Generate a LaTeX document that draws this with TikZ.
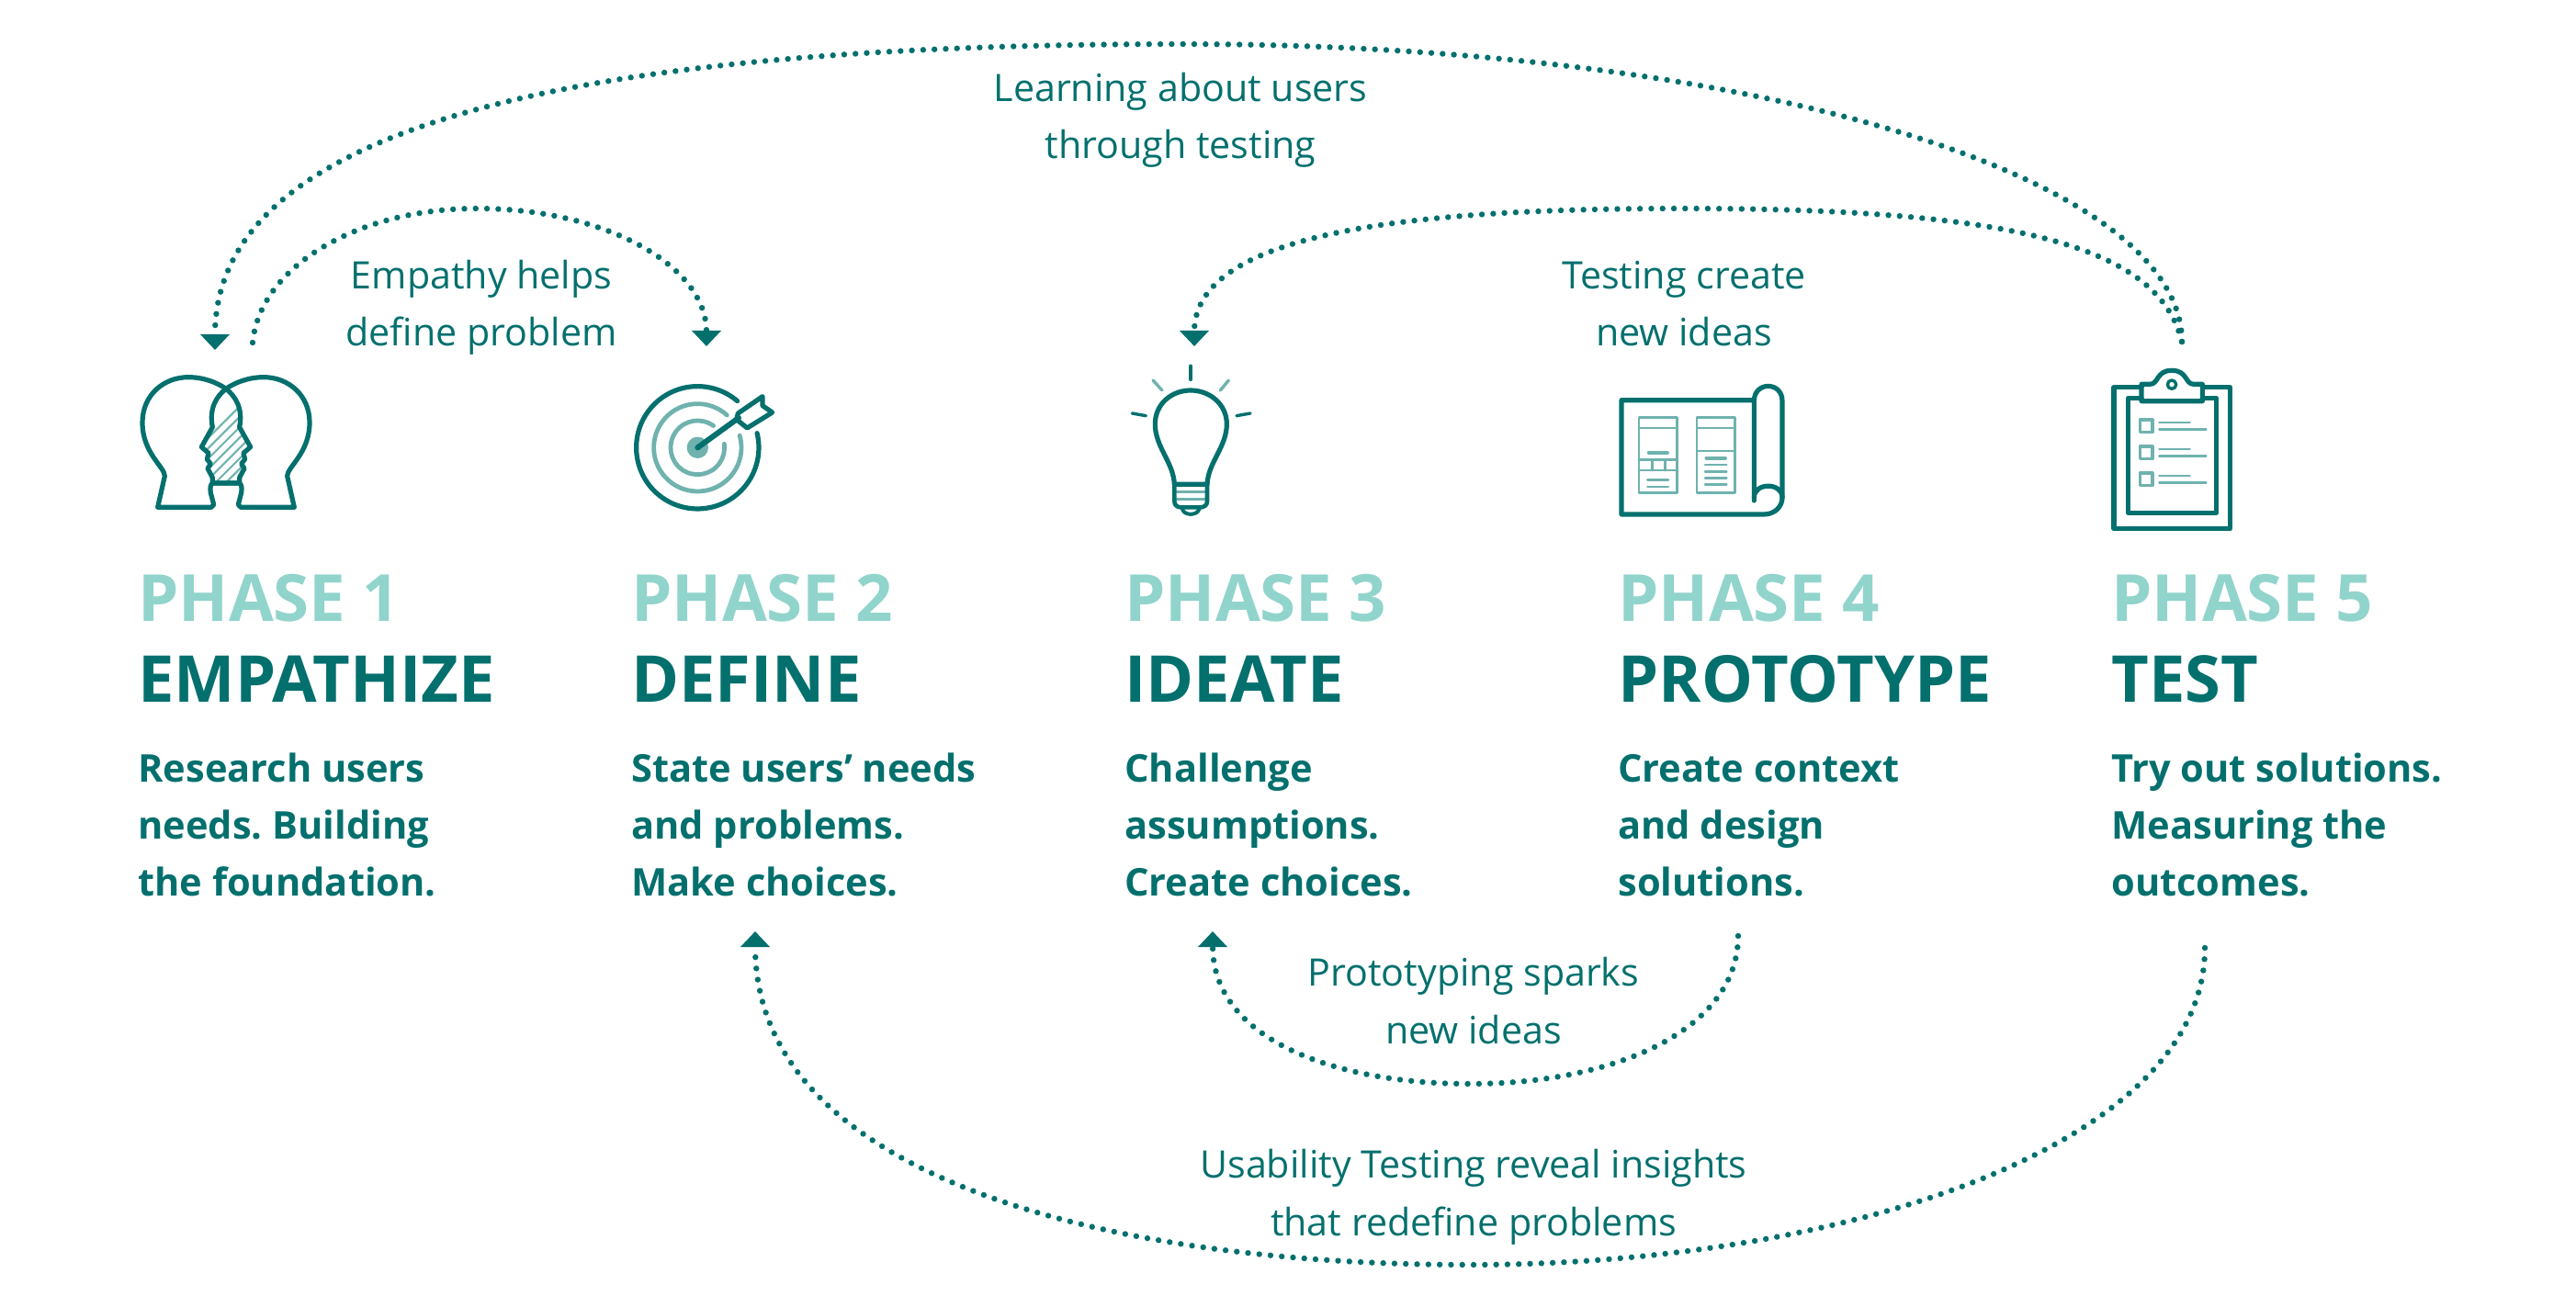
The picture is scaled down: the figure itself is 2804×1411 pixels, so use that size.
\documentclass[tikz,border=0pt]{standalone}
\usepackage{fontspec}
\setmainfont{Open Sans}
\usetikzlibrary{arrows.meta}
\definecolor{tealdark}{HTML}{04706E}
\definecolor{teallight}{HTML}{91D4CC}
\definecolor{tealmid}{HTML}{6FB2AE}
\tikzset{
  phasetext/.style={anchor=base west,inner sep=0pt,text=teallight,font=\fontsize{35.4}{40}\selectfont\bfseries},
  titletext/.style={anchor=base west,inner sep=0pt,text=tealdark,font=\fontsize{35.2}{40}\selectfont\bfseries},
  bodytext/.style={anchor=base west,inner sep=0pt,align=left,text=tealdark,font=\fontsize{20.8}{30.9}\selectfont\bfseries\frenchspacing},
  labeltext/.style={anchor=base,inner sep=0pt,align=center,text=tealdark,font=\fontsize{20.6}{31.2}\selectfont},
  dotted link/.style={draw=tealdark,line width=3.2pt,line cap=round,dash pattern=on 0pt off 6.15pt,
     -{Triangle[width=15.5pt,length=8.5pt,sep=2pt,line cap=butt]}},
  icon/.style={draw=tealdark,line width=2.6pt,line join=round,line cap=round},
  iconlight/.style={draw=tealmid,line width=2.4pt,line join=round,line cap=round},
  iconthin/.style={draw=tealmid,line width=1.3pt,line join=round,line cap=round},
}
\begin{document}
\begin{tikzpicture}[x=0.5pt,y=-0.5pt]
\useasboundingbox (0,0) rectangle (2804,1411);

% texts
\foreach \nm/\cx/\ph/\ti in {a/150/PHASE 1/EMPATHIZE,b/687/PHASE 2/DEFINE,c/1224/PHASE 3/IDEATE,d/1761/PHASE 4/PROTOTYPE,e/2298/PHASE 5/TEST}{
  \node[phasetext] (ph\nm) at (\cx,676) {\ph};
  \node[titletext] (ti\nm) at (\cx,764) {\ti};
}
\node[bodytext] (boa) at (150,975) {Research users\\needs. Building\\the foundation.};
\node[bodytext] (bob) at (687,975) {State users’ needs\\and problems.\\Make choices.};
\node[bodytext] (boc) at (1224,975) {Challenge\\assumptions.\\Create choices.};
\node[bodytext] (bod) at (1761,975) {Create context\\and design\\solutions.};
\node[bodytext] (boe) at (2298,975) {Try out solutions.\\Measuring the\\outcomes.};

\node[labeltext] (l1) at (1285,173) {Learning about users\\through testing};
\node[labeltext] (l2) at (524,377) {Empathy helps\\define problem};
\node[labeltext] (l3) at (1833,377) {Testing create\\new ideas};
\node[labeltext] (l4) at (1604,1136) {Prototyping sparks\\new ideas};
\node[labeltext] (l5) at (1604,1345) {Usability Testing reveal insights\\that redefine problems};

% connector ends
\coordinate (testtop) at (2375,372);
\coordinate (emptop) at (234,385);
\coordinate (empstart) at (275,373);
\coordinate (deftop) at (769,381);
\coordinate (ideatop) at (1300,381);
\coordinate (protobot) at (1892,1019);
\coordinate (ideabot) at (1320,1010);
\coordinate (testbot) at (2400,1032);
\coordinate (defbot) at (822,1010);

\draw[dotted link] (testtop) .. controls (2375,190) and (1900,48) .. (1287,48)
   .. controls (650,48) and (234,130) .. (emptop);
\draw[dotted link] (empstart) .. controls (283,290) and (390,227) .. (519,227)
   .. controls (660,227) and (769,290) .. (deftop);
\draw[dotted link] (testtop) .. controls (2350,270) and (2200,227) .. (1833,227)
   .. controls (1550,227) and (1300,250) .. (ideatop);
\draw[dotted link] (protobot) .. controls (1892,1120) and (1760,1180) .. (1600,1180)
   .. controls (1450,1180) and (1320,1130) .. (ideabot);
\draw[dotted link] (testbot) .. controls (2400,1250) and (2000,1377) .. (1600,1377)
   .. controls (1200,1377) and (822,1280) .. (defbot);

% heads (crop coordinates, 3x)
\begin{scope}[shift={(140,390)},x=0.16667pt,y=-0.16667pt]
  \begin{scope}
    \clip (318,100) .. controls (285,125) and (262,165) .. (268,225) -- (237,290) -- (258,315) -- (252,330) -- (265,345) -- (258,360) -- (270,390) -- (270,408)
       -- (362,408) -- (362,390) -- (378,360) -- (368,345) -- (380,330) -- (375,310) -- (398,290) -- (362,225) .. controls (374,165) and (350,125) .. (318,100) -- cycle;
    \foreach \k in {0,...,16}{
      \draw[tealmid,line width=1.05pt] ({100+\k*34},420) -- ({100+\k*34+340},80);
    }
  \end{scope}
  \draw[icon] (95,487) -- (118,385) .. controls (118,355) and (45,310) .. (45,210)
     .. controls (45,120) and (115,62) .. (195,62)
     .. controls (245,62) and (290,80) .. (318,100)
     .. controls (350,125) and (374,165) .. (362,225) -- (398,290) -- (375,310) -- (380,330) -- (368,345) -- (378,360) -- (362,390) -- (362,408)
     -- (275,408) .. controls (266,412) and (266,425) .. (268,440) -- (278,478) -- (270,487) -- cycle;
  \draw[icon] (541,487) -- (518,385) .. controls (518,355) and (591,310) .. (591,210)
     .. controls (591,120) and (521,62) .. (441,62)
     .. controls (391,62) and (346,80) .. (318,100)
     .. controls (286,125) and (262,165) .. (274,225) -- (238,290) -- (261,310) -- (256,330) -- (268,345) -- (258,360) -- (274,390) -- (274,408)
     -- (361,408) .. controls (370,412) and (370,425) .. (368,440) -- (358,478) -- (366,487) -- cycle;
\end{scope}

% target: rings
\begin{scope}[shift={(759.3,487.3)},x=0.16667pt,y=0.16667pt]
  \draw[icon] (49.5:200) arc[start angle=49.5,end angle=373.6,radius=200];
  \draw[iconlight] (47.8:143) arc[start angle=47.8,end angle=376,radius=143];
  \draw[iconlight] (54:88) arc[start angle=54,end angle=368,radius=88];
  \fill[tealmid] (0,0) circle[radius=35];
\end{scope}
% target: arrow
\begin{scope}[shift={(680,400)},x=0.16667pt,y=-0.16667pt]
  \draw[icon,line width=3pt] (238,262) -- (372,165);
  \draw[icon] (370,150) -- (450,95) -- (450,125) -- (482,147) -- (400,198) -- (365,170) -- cycle;
\end{scope}

% bulb
\begin{scope}[shift={(1220,390)},x=0.16667pt,y=-0.16667pt]
  \draw[icon] (175,412) .. controls (172,340) and (112,290) .. (112,215) .. controls (112,150) and (165,105) .. (228,105)
     .. controls (290,105) and (346,150) .. (346,215) .. controls (346,290) and (285,340) .. (282,412) -- cycle;
  \draw[iconlight,line width=1.6pt] (180,437) -- (277,437);
  \draw[iconlight,line width=1.6pt] (180,460) -- (277,460);
  \draw[icon,line width=2.3pt] (175,412) -- (175,468) .. controls (175,480) and (185,487) .. (197,487) -- (260,487) .. controls (272,487) and (282,480) .. (282,468) -- (282,412);
  \draw[icon,line width=2pt] (200,490) .. controls (204,516) and (252,516) .. (257,490);
  \draw[icon,line width=1.7pt] (228,25) -- (228,70);
  \draw[iconlight,line width=1.7pt] (105,72) -- (135,105);
  \draw[iconlight,line width=1.7pt] (352,72) -- (325,105);
  \draw[icon,line width=1.7pt] (37,180) -- (82,188);
  \draw[icon,line width=1.7pt] (378,188) -- (423,180);
\end{scope}

% prototype scroll
\begin{scope}[shift={(1750,410)},x=0.16667pt,y=-0.16667pt]
  \draw[icon] (478,77) -- (45,77) -- (45,450) -- (510,450) .. controls (545,450) and (570,425) .. (570,395) -- (570,80)
     .. controls (570,15) and (478,15) .. (478,80) -- (478,405);
  \draw[icon] (478,395) .. controls (478,345) and (570,345) .. (570,395);
  \foreach \rx in {102,291}{
    \draw[iconthin,line width=1.4pt] (\rx,134) rectangle ++(124,246);
    \draw[iconthin] (\rx,168) -- ++(124,0);
  }
  \draw[iconthin] (102,272) -- (226,272);
  \draw[iconthin] (102,306) -- (226,306);
  \draw[iconthin] (145,272) -- (145,306);
  \draw[iconthin] (187,272) -- (187,306);
  \draw[iconlight,line width=1.9pt] (134,248) -- (195,248);
  \draw[iconthin] (130,338) -- (198,338);
  \draw[iconthin] (130,360) -- (198,360);
  \draw[iconthin] (291,243) -- (415,243);
  \draw[iconlight,line width=1.9pt] (322,266) -- (384,266);
  \foreach \ly in {288,310,332,353}{
    \draw[iconthin] (318,\ly) -- (388,\ly);
  }
\end{scope}

% clipboard
\begin{scope}[shift={(2250,320)},x=0.16667pt,y=-0.16667pt]
  \draw[icon] (243,305) -- (153,305) -- (153,767) -- (532,767) -- (532,305) -- (442,305);
  \draw[icon] (243,340) -- (200,340) -- (200,715) -- (487,715) -- (487,340) -- (442,340);
  \draw[icon] (243,350) -- (243,295) -- (270,295) .. controls (300,295) and (290,250) .. (342,250)
     .. controls (394,250) and (384,295) .. (414,295) -- (442,295) -- (442,350) -- cycle;
  \draw[icon,line width=1.7pt] (342,296) circle[radius=14];
  \foreach \d in {0,87,174}{
    \draw[iconlight,line width=1.8pt] (238,{411+\d}) rectangle (278,{452+\d});
    \draw[iconthin] (301,{420+\d}) -- (401,{420+\d});
    \draw[iconthin] (301,{443+\d}) -- (454,{443+\d});
  }
\end{scope}
\end{tikzpicture}
\end{document}
